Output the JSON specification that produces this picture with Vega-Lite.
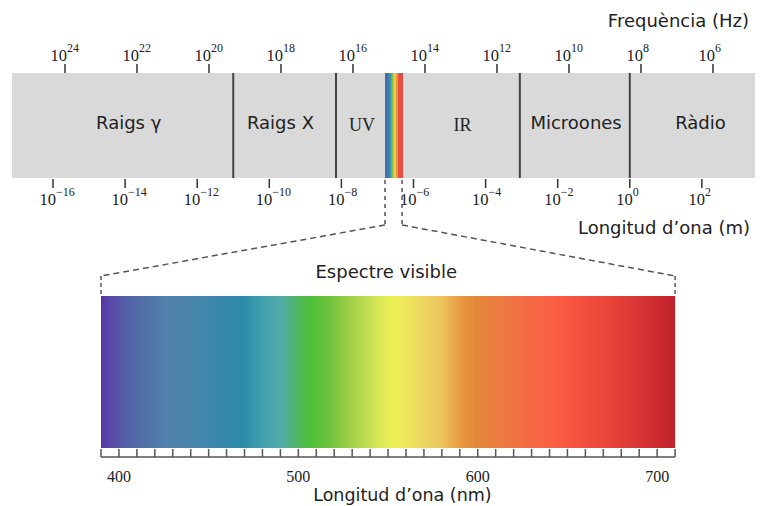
{
  "$schema": "https://vega.github.io/schema/vega-lite/v6.json",
  "width": 760,
  "height": 506,
  "autosize": {"type": "none"},
  "padding": 0,
  "background": "white",
  "config": {
    "view": {"stroke": null},
    "axis": {"disable": true},
    "text": {"font": "DejaVu Sans", "fill": "#222"}
  },
  "datasets": {
    "regions": [
      {"region": "Raigs γ", "from": -17.137, "to": -11.0, "label_at": -13.9},
      {"region": "Raigs X", "from": -11.0, "to": -8.15, "label_at": -9.69},
      {"region": "UV", "from": -8.15, "to": -6.79, "label_at": -7.43},
      {"region": "Visible", "from": -6.79, "to": -6.29, "label_at": -6.54},
      {"region": "IR", "from": -6.29, "to": -3.05, "label_at": -4.64},
      {"region": "Microones", "from": -3.05, "to": 0.0, "label_at": -1.49},
      {"region": "Ràdio", "from": 0.0, "to": 3.473, "label_at": 1.96}
    ],
    "wl_ticks": [
      {"exp": -16}, {"exp": -14}, {"exp": -12}, {"exp": -10}, {"exp": -8},
      {"exp": -6}, {"exp": -4}, {"exp": -2}, {"exp": 0}, {"exp": 2}
    ],
    "f_ticks": [
      {"exp": 24}, {"exp": 22}, {"exp": 20}, {"exp": 18}, {"exp": 16},
      {"exp": 14}, {"exp": 12}, {"exp": 10}, {"exp": 8}, {"exp": 6}
    ],
    "visible": [{"from": 390, "to": 710}],
    "nm_ticks": [
      {"nm": 390}, {"nm": 400}, {"nm": 410}, {"nm": 420}, {"nm": 430}, {"nm": 440},
      {"nm": 450}, {"nm": 460}, {"nm": 470}, {"nm": 480}, {"nm": 490}, {"nm": 500},
      {"nm": 510}, {"nm": 520}, {"nm": 530}, {"nm": 540}, {"nm": 550}, {"nm": 560},
      {"nm": 570}, {"nm": 580}, {"nm": 590}, {"nm": 600}, {"nm": 610}, {"nm": 620},
      {"nm": 630}, {"nm": 640}, {"nm": 650}, {"nm": 660}, {"nm": 670}, {"nm": 680},
      {"nm": 690}, {"nm": 700}, {"nm": 710}
    ],
    "connectors": [
      {"side": "left", "strip": 548.3, "edge": 390},
      {"side": "right", "strip": 557.8, "edge": 710}
    ],
    "titles": [
      {"key": "freq", "title": "Frequència (Hz)"},
      {"key": "wl", "title": "Longitud d’ona (m)"},
      {"key": "nm", "title": "Longitud d’ona (nm)"},
      {"key": "vis", "title": "Espectre visible"}
    ]
  },
  "resolve": {"scale": {"x": "independent"}},
  "layer": [
    {
      "layer": [
        {
          "data": {"name": "regions"},
          "mark": {"type": "rect", "fill": "#d9d9d9"},
          "encoding": {
            "x": {"field": "from", "type": "quantitative", "scale": {"domain": [-17.47, 3.612], "nice": false, "zero": false}},
            "x2": {"field": "to"},
            "y": {"datum": 73, "type": "quantitative", "scale": {"domain": [0, 506], "reverse": true, "nice": false, "zero": false}},
            "y2": {"datum": 178}
          }
        },
        {
          "data": {"name": "regions"},
          "transform": [{"filter": "datum.region == 'Visible'"}],
          "mark": {
            "type": "rect",
            "fill": {
              "gradient": "linear", "x1": 0, "y1": 0, "x2": 1, "y2": 0,
              "stops": [
                {"offset": 0, "color": "#3f6ea8"},
                {"offset": 0.18, "color": "#3f74aa"},
                {"offset": 0.22, "color": "#3a8ab0"},
                {"offset": 0.32, "color": "#3f95a8"},
                {"offset": 0.36, "color": "#5fb850"},
                {"offset": 0.45, "color": "#8cc048"},
                {"offset": 0.49, "color": "#e8d440"},
                {"offset": 0.58, "color": "#f0c040"},
                {"offset": 0.62, "color": "#f09a40"},
                {"offset": 0.71, "color": "#f08a40"},
                {"offset": 0.75, "color": "#e85040"},
                {"offset": 1, "color": "#e04a40"}
              ]
            }
          },
          "encoding": {
            "x": {"field": "from", "type": "quantitative", "scale": {"domain": [-17.47, 3.612], "nice": false, "zero": false}},
            "x2": {"field": "to"},
            "y": {"datum": 73, "type": "quantitative", "scale": {"domain": [0, 506], "reverse": true, "nice": false, "zero": false}},
            "y2": {"datum": 178}
          }
        },
        {
          "data": {"name": "regions"},
          "transform": [{"filter": "datum.region == 'Raigs γ' || datum.region == 'Raigs X' || datum.region == 'IR' || datum.region == 'Microones'"}],
          "mark": {"type": "rule", "stroke": "#444", "strokeWidth": 2},
          "encoding": {
            "x": {"field": "to", "type": "quantitative", "scale": {"domain": [-17.47, 3.612], "nice": false, "zero": false}},
            "y": {"datum": 73, "type": "quantitative", "scale": {"domain": [0, 506], "reverse": true, "nice": false, "zero": false}},
            "y2": {"datum": 178}
          }
        },
        {
          "data": {"name": "regions"},
          "transform": [{"filter": "datum.region == 'Raigs γ' || datum.region == 'Raigs X' || datum.region == 'Microones' || datum.region == 'Ràdio'"}],
          "mark": {"type": "text", "font": "DejaVu Sans", "fontSize": 18, "align": "center", "baseline": "alphabetic", "fill": "#222"},
          "encoding": {
            "x": {"field": "label_at", "type": "quantitative", "scale": {"domain": [-17.47, 3.612], "nice": false, "zero": false}},
            "y": {"datum": 129, "type": "quantitative", "scale": {"domain": [0, 506], "reverse": true, "nice": false, "zero": false}},
            "text": {"field": "region"}
          }
        },
        {
          "data": {"name": "regions"},
          "transform": [{"filter": "datum.region == 'UV' || datum.region == 'IR'"}],
          "mark": {"type": "text", "font": "Liberation Serif", "fontSize": 18, "align": "center", "baseline": "alphabetic", "fill": "#222"},
          "encoding": {
            "x": {"field": "label_at", "type": "quantitative", "scale": {"domain": [-17.47, 3.612], "nice": false, "zero": false}},
            "y": {"datum": 130.5, "type": "quantitative", "scale": {"domain": [0, 506], "reverse": true, "nice": false, "zero": false}},
            "text": {"field": "region"}
          }
        },
        {
          "data": {"name": "wl_ticks"},
          "mark": {"type": "rule", "stroke": "#333", "strokeWidth": 1.5},
          "encoding": {
            "x": {"field": "exp", "type": "quantitative", "scale": {"domain": [-17.47, 3.612], "nice": false, "zero": false}},
            "y": {"datum": 179, "type": "quantitative", "scale": {"domain": [0, 506], "reverse": true, "nice": false, "zero": false}},
            "y2": {"datum": 188}
          }
        },
        {
          "data": {"name": "wl_ticks"},
          "mark": {"type": "text", "font": "Liberation Serif", "fontSize": 16.5, "align": "right", "baseline": "alphabetic", "dx": 3, "fill": "#222"},
          "encoding": {
            "x": {"field": "exp", "type": "quantitative", "scale": {"domain": [-17.47, 3.612], "nice": false, "zero": false}},
            "y": {"datum": 205, "type": "quantitative", "scale": {"domain": [0, 506], "reverse": true, "nice": false, "zero": false}},
            "text": {"value": "10"}
          }
        },
        {
          "data": {"name": "wl_ticks"},
          "mark": {"type": "text", "font": "Liberation Serif", "fontSize": 12, "align": "left", "baseline": "alphabetic", "dx": 3, "fill": "#222"},
          "encoding": {
            "x": {"field": "exp", "type": "quantitative", "scale": {"domain": [-17.47, 3.612], "nice": false, "zero": false}},
            "y": {"datum": 196, "type": "quantitative", "scale": {"domain": [0, 506], "reverse": true, "nice": false, "zero": false}},
            "text": {"field": "exp", "type": "quantitative", "format": "d"}
          }
        },
        {
          "data": {"name": "titles"},
          "transform": [{"filter": "datum.key == 'wl'"}],
          "mark": {"type": "text", "font": "DejaVu Sans", "fontSize": 18, "align": "right", "baseline": "alphabetic", "fill": "#222"},
          "encoding": {
            "x": {"datum": 3.335, "type": "quantitative", "scale": {"domain": [-17.47, 3.612], "nice": false, "zero": false}},
            "y": {"datum": 234, "type": "quantitative", "scale": {"domain": [0, 506], "reverse": true, "nice": false, "zero": false}},
            "text": {"field": "title"}
          }
        }
      ]
    },
    {
      "layer": [
        {
          "data": {"name": "f_ticks"},
          "mark": {"type": "rule", "stroke": "#333", "strokeWidth": 1.5},
          "encoding": {
            "x": {"field": "exp", "type": "quantitative", "scale": {"domain": [4.694, 25.806], "reverse": true, "nice": false, "zero": false}},
            "y": {"datum": 64, "type": "quantitative", "scale": {"domain": [0, 506], "reverse": true, "nice": false, "zero": false}},
            "y2": {"datum": 73}
          }
        },
        {
          "data": {"name": "f_ticks"},
          "mark": {"type": "text", "font": "Liberation Serif", "fontSize": 16.5, "align": "right", "baseline": "alphabetic", "dx": 2, "fill": "#222"},
          "encoding": {
            "x": {"field": "exp", "type": "quantitative", "scale": {"domain": [4.694, 25.806], "reverse": true, "nice": false, "zero": false}},
            "y": {"datum": 61, "type": "quantitative", "scale": {"domain": [0, 506], "reverse": true, "nice": false, "zero": false}},
            "text": {"value": "10"}
          }
        },
        {
          "data": {"name": "f_ticks"},
          "mark": {"type": "text", "font": "Liberation Serif", "fontSize": 12, "align": "left", "baseline": "alphabetic", "dx": 2, "fill": "#222"},
          "encoding": {
            "x": {"field": "exp", "type": "quantitative", "scale": {"domain": [4.694, 25.806], "reverse": true, "nice": false, "zero": false}},
            "y": {"datum": 52, "type": "quantitative", "scale": {"domain": [0, 506], "reverse": true, "nice": false, "zero": false}},
            "text": {"field": "exp", "type": "quantitative", "format": "d"}
          }
        },
        {
          "data": {"name": "titles"},
          "transform": [{"filter": "datum.key == 'freq'"}],
          "mark": {"type": "text", "font": "DejaVu Sans", "fontSize": 18, "align": "right", "baseline": "alphabetic", "fill": "#222"},
          "encoding": {
            "x": {"datum": 5.0, "type": "quantitative", "scale": {"domain": [4.694, 25.806], "reverse": true, "nice": false, "zero": false}},
            "y": {"datum": 27, "type": "quantitative", "scale": {"domain": [0, 506], "reverse": true, "nice": false, "zero": false}},
            "text": {"field": "title"}
          }
        }
      ]
    },
    {
      "layer": [
        {
          "data": {"name": "visible"},
          "mark": {
            "type": "rect",
            "fill": {
              "gradient": "linear", "x1": 0, "y1": 0, "x2": 1, "y2": 0,
              "stops": [
                {"offset": 0, "color": "#5436a0"},
                {"offset": 0.016, "color": "#5a46a8"},
                {"offset": 0.042, "color": "#5560a8"},
                {"offset": 0.077, "color": "#5072a8"},
                {"offset": 0.111, "color": "#5080ac"},
                {"offset": 0.155, "color": "#4a85ab"},
                {"offset": 0.199, "color": "#3a87ab"},
                {"offset": 0.246, "color": "#2c8aa8"},
                {"offset": 0.28, "color": "#40a0ac"},
                {"offset": 0.315, "color": "#52aaa8"},
                {"offset": 0.345, "color": "#4fb65a"},
                {"offset": 0.364, "color": "#4cbf3a"},
                {"offset": 0.399, "color": "#70c43e"},
                {"offset": 0.434, "color": "#a0d048"},
                {"offset": 0.477, "color": "#d0e455"},
                {"offset": 0.509, "color": "#eef055"},
                {"offset": 0.525, "color": "#eeea5a"},
                {"offset": 0.556, "color": "#ecd860"},
                {"offset": 0.591, "color": "#ecc860"},
                {"offset": 0.625, "color": "#e89a40"},
                {"offset": 0.652, "color": "#e28838"},
                {"offset": 0.695, "color": "#ec7a40"},
                {"offset": 0.747, "color": "#f46a44"},
                {"offset": 0.791, "color": "#fd5e44"},
                {"offset": 0.834, "color": "#f45040"},
                {"offset": 0.887, "color": "#e84438"},
                {"offset": 0.939, "color": "#d83436"},
                {"offset": 1, "color": "#c0222a"}
              ]
            }
          },
          "encoding": {
            "x": {"field": "from", "type": "quantitative", "scale": {"domain": [333.7, 757.33], "nice": false, "zero": false}},
            "x2": {"field": "to"},
            "y": {"datum": 296, "type": "quantitative", "scale": {"domain": [0, 506], "reverse": true, "nice": false, "zero": false}},
            "y2": {"datum": 448}
          }
        },
        {
          "data": {"name": "visible"},
          "mark": {"type": "rule", "stroke": "#555", "strokeWidth": 1.5},
          "encoding": {
            "x": {"field": "from", "type": "quantitative", "scale": {"domain": [333.7, 757.33], "nice": false, "zero": false}},
            "x2": {"field": "to"},
            "y": {"datum": 457, "type": "quantitative", "scale": {"domain": [0, 506], "reverse": true, "nice": false, "zero": false}}
          }
        },
        {
          "data": {"name": "nm_ticks"},
          "mark": {"type": "rule", "stroke": "#555", "strokeWidth": 1.5},
          "encoding": {
            "x": {"field": "nm", "type": "quantitative", "scale": {"domain": [333.7, 757.33], "nice": false, "zero": false}},
            "y": {"datum": 449, "type": "quantitative", "scale": {"domain": [0, 506], "reverse": true, "nice": false, "zero": false}},
            "y2": {"datum": 457}
          }
        },
        {
          "data": {"name": "nm_ticks"},
          "transform": [{"filter": "datum.nm % 100 == 0"}],
          "mark": {"type": "text", "font": "Liberation Serif", "fontSize": 16, "align": "center", "baseline": "alphabetic", "fill": "#222"},
          "encoding": {
            "x": {"field": "nm", "type": "quantitative", "scale": {"domain": [333.7, 757.33], "nice": false, "zero": false}},
            "y": {"datum": 482, "type": "quantitative", "scale": {"domain": [0, 506], "reverse": true, "nice": false, "zero": false}},
            "text": {"field": "nm", "type": "quantitative", "format": "d"}
          }
        },
        {
          "data": {"name": "titles"},
          "transform": [{"filter": "datum.key == 'nm'"}],
          "mark": {"type": "text", "font": "DejaVu Sans", "fontSize": 17.5, "align": "center", "baseline": "alphabetic", "fill": "#222"},
          "encoding": {
            "x": {"datum": 558, "type": "quantitative", "scale": {"domain": [333.7, 757.33], "nice": false, "zero": false}},
            "y": {"datum": 501, "type": "quantitative", "scale": {"domain": [0, 506], "reverse": true, "nice": false, "zero": false}},
            "text": {"field": "title"}
          }
        },
        {
          "data": {"name": "titles"},
          "transform": [{"filter": "datum.key == 'vis'"}],
          "mark": {"type": "text", "font": "DejaVu Sans", "fontSize": 18, "align": "center", "baseline": "alphabetic", "fill": "#222"},
          "encoding": {
            "x": {"datum": 549, "type": "quantitative", "scale": {"domain": [333.7, 757.33], "nice": false, "zero": false}},
            "y": {"datum": 278, "type": "quantitative", "scale": {"domain": [0, 506], "reverse": true, "nice": false, "zero": false}},
            "text": {"field": "title"}
          }
        },
        {
          "data": {"name": "connectors"},
          "mark": {"type": "rule", "stroke": "#555", "strokeWidth": 1.5, "strokeDash": [4, 4]},
          "encoding": {
            "x": {"field": "strip", "type": "quantitative", "scale": {"domain": [333.7, 757.33], "nice": false, "zero": false}},
            "y": {"datum": 180, "type": "quantitative", "scale": {"domain": [0, 506], "reverse": true, "nice": false, "zero": false}},
            "y2": {"datum": 225}
          }
        },
        {
          "data": {"name": "connectors"},
          "mark": {"type": "rule", "stroke": "#555", "strokeWidth": 1.5, "strokeDash": [6, 4]},
          "encoding": {
            "x": {"field": "strip", "type": "quantitative", "scale": {"domain": [333.7, 757.33], "nice": false, "zero": false}},
            "x2": {"field": "edge"},
            "y": {"datum": 225, "type": "quantitative", "scale": {"domain": [0, 506], "reverse": true, "nice": false, "zero": false}},
            "y2": {"datum": 276}
          }
        },
        {
          "data": {"name": "connectors"},
          "mark": {"type": "rule", "stroke": "#555", "strokeWidth": 1.5, "strokeDash": [4, 3]},
          "encoding": {
            "x": {"field": "edge", "type": "quantitative", "scale": {"domain": [333.7, 757.33], "nice": false, "zero": false}},
            "y": {"datum": 276, "type": "quantitative", "scale": {"domain": [0, 506], "reverse": true, "nice": false, "zero": false}},
            "y2": {"datum": 296}
          }
        }
      ]
    }
  ]
}
